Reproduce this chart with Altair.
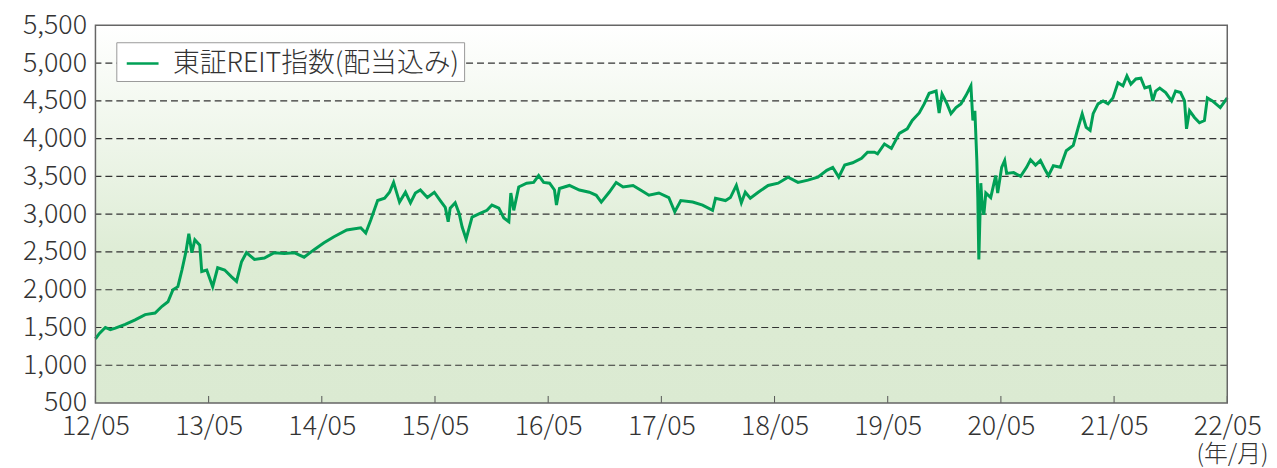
import altair as alt
import pandas as pd

# months elapsed since 2012/05 (x) and index level (y)
months = [
    0.0, 0.42, 1.05, 1.58, 2.11, 3.16, 4.21, 5.27, 6.32, 7.06, 7.69, 8.22, 8.74, 9.17, 9.59, 9.90, 10.22, 10.54, 11.06, 11.27, 11.80,
    12.43, 12.96, 13.70, 14.43, 14.96, 15.49, 16.01, 16.86, 17.91, 18.96, 20.02, 21.07, 22.12, 23.18,
    24.23, 25.29, 26.65, 28.13, 28.66, 29.18, 29.92, 30.66, 31.18, 31.61, 32.24, 32.87, 33.40, 33.92, 34.45, 35.19, 35.93,
    36.56, 37.09, 37.40, 37.61, 38.14, 38.56, 38.88, 39.30, 39.93, 40.77, 41.51, 42.04, 42.77, 43.30, 43.83, 44.04, 44.35, 44.88, 45.72, 46.46, 46.99, 47.52,
    48.15, 48.67, 48.88, 49.20, 50.25, 51.31, 52.36, 53.10, 53.63, 54.47, 55.21, 55.94, 57.00, 58.05, 58.68, 59.74,
    60.79, 61.42, 62.06, 63.32, 64.37, 65.43, 65.74, 66.80, 67.32, 67.95, 68.48, 68.90, 69.43, 70.27, 71.32,
    72.38, 73.43, 74.49, 75.54, 76.59, 77.54, 78.17, 78.81, 79.44, 80.28, 81.23, 81.86, 82.60, 82.92, 83.65,
    84.39, 85.23, 86.07, 86.60, 87.34, 87.87, 88.39, 89.13, 89.45, 89.76, 90.29, 90.71, 91.24, 91.76, 92.29, 92.82, 93.03, 93.24, 93.45, 93.55, 93.66, 93.87, 93.98, 94.19, 94.40, 94.92, 95.45, 95.66,
    96.08, 96.40, 96.61, 97.35, 98.09, 98.72, 99.14, 99.67, 100.19, 100.72, 101.04, 101.56, 102.30, 102.93, 103.67, 104.20, 104.62, 105.04, 105.46, 105.78, 106.30, 106.83, 107.36, 107.88,
    108.41, 108.94, 109.36, 109.78, 110.31, 110.84, 111.26, 111.78, 112.10, 112.41, 112.84, 113.47, 114.10, 114.52, 115.05, 115.47, 115.68, 116.00, 116.52, 117.05, 117.58, 117.89, 118.42, 119.26, 120.0,
]
values = [
    1350, 1420, 1500, 1470, 1490, 1540, 1600, 1670, 1690, 1780, 1840, 2000, 2040, 2260, 2500, 2740, 2490, 2660, 2590, 2240, 2260,
    2040, 2290, 2260, 2170, 2110, 2370, 2490, 2400, 2420, 2490, 2480, 2490, 2430, 2530,
    2620, 2700, 2790, 2820, 2750, 2920, 3180, 3210, 3290, 3420, 3160, 3290, 3150, 3280, 3320, 3220, 3290,
    3180, 3090, 2900, 3080, 3150, 3010, 2830, 2670, 2960, 3010, 3050, 3120, 3080, 2950, 2900, 3280, 3050, 3360, 3410, 3420, 3510, 3420,
    3410, 3320, 3120, 3340, 3380, 3320, 3290, 3250, 3160, 3290, 3420, 3360, 3380, 3300, 3250, 3280,
    3220, 3030, 3180, 3160, 3120, 3050, 3210, 3180, 3220, 3380, 3150, 3290, 3210, 3290, 3380,
    3410, 3490, 3420, 3450, 3490, 3580, 3620, 3490, 3650, 3680, 3740, 3820, 3820, 3800, 3930,
    3870, 4070, 4130, 4240, 4340, 4460, 4600, 4630, 4340, 4590, 4460, 4330, 4410, 4460, 4570, 4700, 4240, 4370, 3710, 3220, 2400, 3410, 3180, 2990, 3280, 3220, 3510, 3280,
    3620, 3710, 3540, 3550, 3500, 3620, 3720, 3650, 3710, 3580, 3510, 3640, 3620, 3840, 3910, 4150, 4330, 4150, 4110, 4330, 4460, 4500, 4460, 4540,
    4740, 4700, 4830, 4720, 4790, 4800, 4670, 4690, 4500, 4630, 4670, 4610, 4500, 4630, 4610, 4500, 4130, 4370, 4280, 4210, 4240, 4540, 4500, 4410, 4540,
]
series_name = "東証REIT指数(配当込み)"
tick_months = [0, 12, 24, 36, 48, 60, 72, 84, 96, 108, 120]
tick_labels = ["12/05", "13/05", "14/05", "15/05", "16/05", "17/05", "18/05", "19/05", "20/05", "21/05", "22/05"]
y_ticks = [500, 1000, 1500, 2000, 2500, 3000, 3500, 4000, 4500, 5000, 5500]
grid_values = [1000, 1500, 2000, 2500, 3000, 3500, 4000, 4500, 5000]

W, H = 1139, 380
FONT = "Noto Sans CJK JP"
TXT = "#333333"
GREEN = "#00a056"

df = pd.DataFrame({"m": months, "v": values, "s": series_name})

xscale = alt.Scale(domain=[0, 120], nice=False, zero=False)
yscale = alt.Scale(domain=[500, 5500], nice=False, zero=False)

label_expr = "[" + ",".join("'%s'" % l for l in tick_labels) + "][round(datum.value/12)]"

xaxis = alt.Axis(values=tick_months, labelExpr=label_expr, labelFontSize=27, labelFont=FONT,
                 labelFontWeight=300, labelColor=TXT, labelPadding=11, ticks=False,
                 domain=False, grid=False, labelFlush=False, labelOverlap=False,
                 title="(年/月)", titleFont=FONT, titleFontSize=24, titleFontWeight=300,
                 titleColor=TXT, titleAnchor="end", titleAlign="right", titleX=W + 41,
                 titleY=64, titleBaseline="bottom")
yaxis = alt.Axis(values=y_ticks, format=",.0f", labelFontSize=27, labelFont=FONT,
                 labelFontWeight=300, labelColor=TXT, labelPadding=9, ticks=False,
                 domain=False, grid=False, labelFlush=False, labelOverlap=False, title=None)

grad = alt.LinearGradient(
    gradient="linear",
    stops=[alt.GradientStop(color="#ffffff", offset=0),
           alt.GradientStop(color="#ddecd4", offset=0.62),
           alt.GradientStop(color="#dbead2", offset=1)],
    x1=0, x2=0, y1=0, y2=1)

one = pd.DataFrame({"a": [0]})

bg = alt.Chart(one).mark_rect(color=grad).encode(
    x=alt.value(0), x2=alt.value(W), y=alt.value(0), y2=alt.value(H))

grid = alt.Chart(pd.DataFrame({"g": grid_values})).mark_rule(
    color="#333333", strokeDash=[7, 4], strokeWidth=1.1).encode(
    y=alt.Y("g:Q", scale=yscale, axis=yaxis))

ticks = alt.Chart(pd.DataFrame({"t": tick_months})).mark_rule(
    color="#555555", strokeWidth=1).encode(
    x=alt.X("t:Q", scale=xscale, axis=xaxis), y=alt.value(H), y2=alt.value(H - 7))

line = alt.Chart(df).mark_line(strokeWidth=3).encode(
    x=alt.X("m:Q", scale=xscale, axis=xaxis),
    y=alt.Y("v:Q", scale=yscale, axis=yaxis),
    color=alt.Color("s:N", scale=alt.Scale(range=[GREEN]),
                    legend=alt.Legend(title=None, orient="none", legendX=21, legendY=17,
                                      fillColor="white", strokeColor="#999999", padding=4,
                                      symbolType="stroke", symbolStrokeWidth=2.5,
                                      symbolSize=1024, symbolOffset=5,
                                      labelFontSize=27, labelFont=FONT, labelFontWeight=300,
                                      labelColor=TXT, labelOffset=13, labelLimit=500)))

frame = alt.Chart(one).mark_rect(fill="transparent", stroke="#666666", strokeWidth=1.5).encode(
    x=alt.value(0), x2=alt.value(W), y=alt.value(0), y2=alt.value(H))

chart = alt.layer(bg, grid, ticks, line, frame).properties(
    width=W, height=H,
    autosize=alt.AutoSizeParams(type="none"),
    padding={"left": 88, "top": 16, "right": 42, "bottom": 64},
).configure_view(stroke=None)

chart.save("out.html", embed_options={"renderer": "svg", "actions": False})
